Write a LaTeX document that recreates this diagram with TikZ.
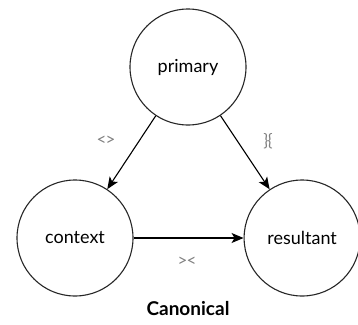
\documentclass[tikz,border=0pt]{standalone}
\usepackage{fontspec}
\setmainfont{Lato}
\usetikzlibrary{positioning}
\usetikzlibrary{arrows.meta}

\begin{document}
\begin{tikzpicture}[x=1pt, y=-1pt, rolenode/.style={circle,draw=black!85,line width=1.1pt,minimum size=116pt,inner sep=0pt,font=\fontsize{18}{20}\selectfont}, oplabel/.style={text=black!50,font=\fontsize{17}{19}\selectfont}, >={Stealth[length=12pt,width=10pt,inset=3pt]}, node distance = 110pt]
	\useasboundingbox (0,0) rectangle (358,324);
	\node[rolenode] (primary) at (188,67) {primary};
	\node[rolenode] (context) at (75,238) {context};
	\node[rolenode] (resultant) [right = of context] {resultant};
	\draw[line width=1.1pt,->] (primary) -- (context);
	\draw[line width=1.1pt,->] (primary) -- (resultant);
	\draw[line width=1.1pt,->] (context) -- (resultant);
	\node[oplabel] (ctxop) at (106,141) {<\kern-1pt>};
	\node[oplabel] (resop) at (268,141) {\}\kern-1pt\{};
	\node[oplabel] (crossop) at (187,262) {>\kern-1pt<};
	\node[font=\bfseries\fontsize{19}{22}\selectfont] (title) at (188,309) {Canonical};
\end{tikzpicture}
\end{document}
